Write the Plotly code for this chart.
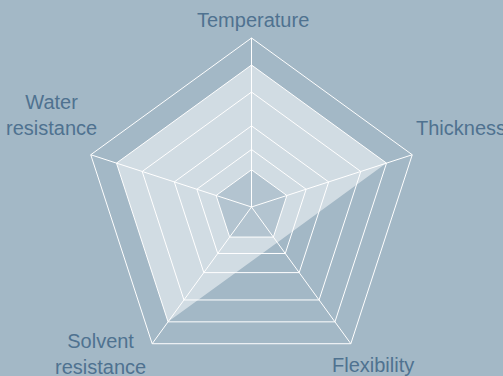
import plotly.graph_objects as go

# axes of the radar, clockwise from the top
categories = ["Temperature", "Thickness", "Flexibility", "Solvent resistance", "Water resistance"]
label_text = ["Temperature", "Thickness", "Flexibility", "Solvent<br>resistance", "Water<br>resistance"]
values = [84, 84, 26, 84, 84]
# radial grid rings
ring_levels = [22, 34, 48, 68, 84]
core_level = 22

bg = "#a3b8c6"
label_color = "#4f7290"

fig = go.Figure()

# inner core, slightly lighter than the background
fig.add_trace(
    go.Scatterpolar(
        r=[core_level] * len(categories) + [core_level],
        theta=categories + categories[:1],
        mode="lines",
        line={"color": "rgba(0,0,0,0)", "width": 0},
        fill="toself",
        fillcolor="rgba(255,255,255,0.18)",
        hoverinfo="skip",
        showlegend=False,
    )
)

fig.add_trace(
    go.Scatterpolar(
        r=values + values[:1],
        theta=categories + categories[:1],
        mode="lines",
        line={"color": "rgba(0,0,0,0)", "width": 0},
        fill="tonext",
        fillcolor="rgba(255,255,255,0.5)",
        showlegend=False,
    )
)

# axis labels placed like the reference (plotly's own angular labels sit too close)
label_pos = [
    dict(x=0.502, y=0.947, xanchor="center"),
    dict(x=0.823, y=0.660, xanchor="left"),
    dict(x=0.742, y=0.030, xanchor="center"),
    dict(x=0.199, y=0.059, xanchor="center"),
    dict(x=0.103, y=0.694, xanchor="center"),
]
annotations = []
for txt, pos in zip(label_text, label_pos):
    annotations.append(
        dict(
            text=txt,
            xref="paper",
            yref="paper",
            showarrow=False,
            yanchor="middle",
            align="center",
            font=dict(size=20, color=label_color),
            **pos,
        )
    )

fig.update_layout(
    width=503,
    height=376,
    margin={"l": 0, "r": 0, "t": 0, "b": 0},
    paper_bgcolor=bg,
    plot_bgcolor=bg,
    font=dict(family="Liberation Sans, Arial, sans-serif", size=20, color=label_color),
    showlegend=False,
    annotations=annotations,
    polar=dict(
        bgcolor=bg,
        gridshape="linear",
        domain={"x": [0, 1], "y": [0, 0.899]},
        radialaxis=dict(
            range=[0, 100],
            tickvals=ring_levels,
            showticklabels=False,
            ticks="",
            showline=False,
            gridcolor="white",
            gridwidth=1,
        ),
        angularaxis=dict(
            direction="clockwise",
            rotation=90,
            ticks="",
            showticklabels=False,
            showline=True,
            linecolor="white",
            linewidth=1,
            gridcolor="white",
            gridwidth=1,
        ),
    ),
)

fig.write_html(
    "out.html",
    config={"displayModeBar": False},
    post_script="document.body.style.margin='0';",
)
